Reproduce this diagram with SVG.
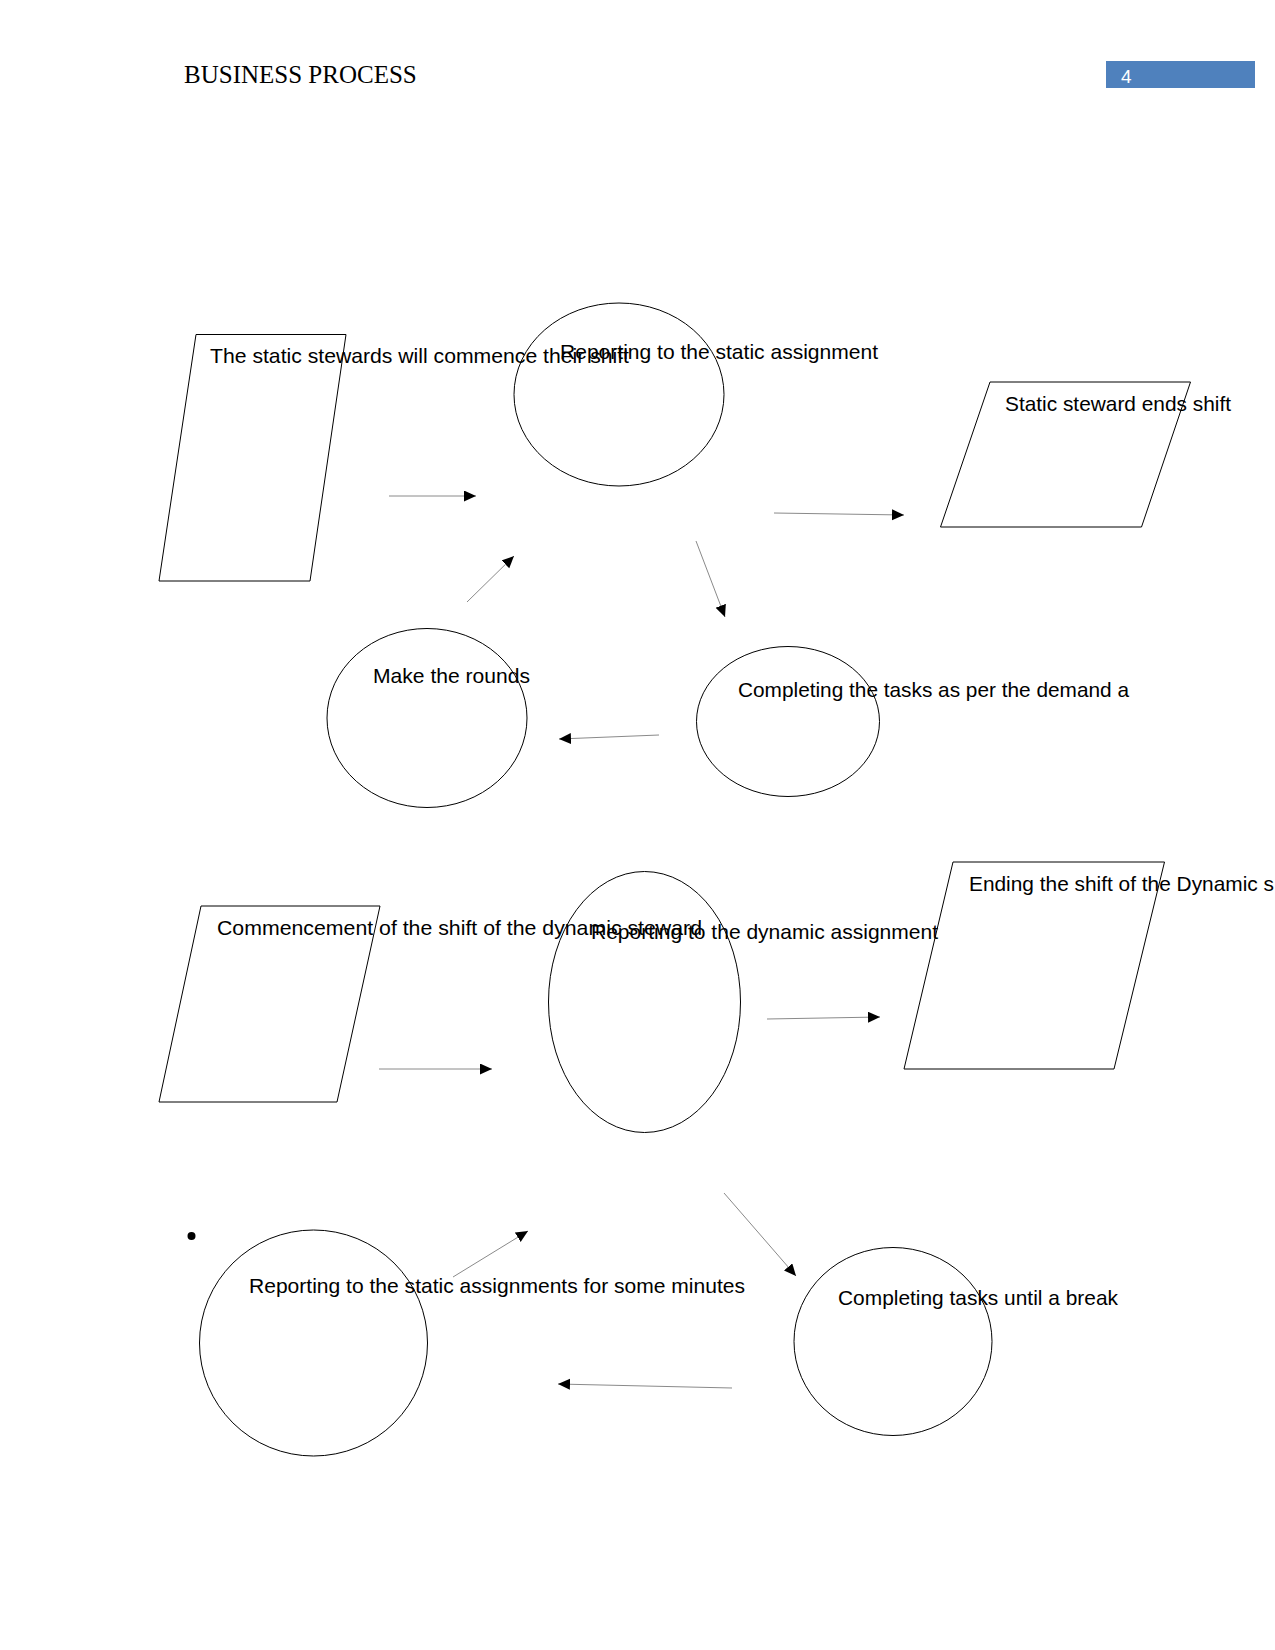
<svg xmlns="http://www.w3.org/2000/svg" width="1275" height="1650" viewBox="0 0 1275 1650">
<defs>
<style>
.shape{fill:none;stroke:#000;stroke-width:1}
.lbl{font-family:"Liberation Sans",Arial,sans-serif;font-size:21px;fill:#000}
.conn{stroke:#8a8a8a;stroke-width:1;fill:none;marker-end:url(#ah)}
</style>
<marker id="ah" markerUnits="userSpaceOnUse" markerWidth="13" markerHeight="12" refX="12" refY="5.5" orient="auto">
<path d="M0,0 L12,5.5 L0,11 Z" fill="#000"/>
</marker>
</defs>
<rect width="1275" height="1650" fill="#fff"/>
<g id="header">
<text x="184" y="83" font-family="'Liberation Serif','Times New Roman',serif" font-size="25" fill="#000">BUSINESS PROCESS</text>
<rect x="1106" y="61" width="149" height="27" fill="#4f81bd"/>
<text x="1121" y="83" font-family="'Liberation Sans',Arial,sans-serif" font-size="19" fill="#fff">4</text>
</g>
<g id="connectors">
<line class="conn" x1="389" y1="496" x2="476" y2="496"/>
<line class="conn" x1="774" y1="513" x2="904" y2="515"/>
<line class="conn" x1="696" y1="541" x2="725" y2="617"/>
<line class="conn" x1="467" y1="602" x2="514" y2="556"/>
<line class="conn" x1="659" y1="735" x2="559" y2="739"/>
<line class="conn" x1="379" y1="1069" x2="492" y2="1069"/>
<line class="conn" x1="767" y1="1019" x2="880" y2="1017"/>
<line class="conn" x1="724" y1="1193" x2="796" y2="1276"/>
<line class="conn" x1="732" y1="1388" x2="558" y2="1384"/>
<line class="conn" x1="453" y1="1277" x2="528" y2="1231"/>
</g>
<g id="n1">
<polygon class="shape" points="196,334.5 346,334.5 310,581 159,581"/>
<text class="lbl" x="210" y="363" textLength="419" lengthAdjust="spacingAndGlyphs">The static stewards will commence their shift</text>
</g>
<g id="n2">
<ellipse class="shape" cx="619" cy="394.5" rx="105" ry="91.5"/>
<text class="lbl" x="560" y="359" textLength="318" lengthAdjust="spacingAndGlyphs">Reporting to the static assignment</text>
</g>
<g id="n3">
<polygon class="shape" points="990,382 1190.5,382 1141.5,527 940.5,527"/>
<text class="lbl" x="1005" y="411" textLength="226" lengthAdjust="spacingAndGlyphs">Static steward ends shift</text>
</g>
<g id="n4">
<ellipse class="shape" cx="427" cy="718" rx="100" ry="89.5"/>
<text class="lbl" x="373" y="683" textLength="157" lengthAdjust="spacingAndGlyphs">Make the rounds</text>
</g>
<g id="n5">
<ellipse class="shape" cx="788" cy="721.5" rx="91.5" ry="75"/>
<text class="lbl" x="738" y="697" textLength="391" lengthAdjust="spacingAndGlyphs">Completing the tasks as per the demand a</text>
</g>
<g id="n6">
<polygon class="shape" points="201,906 380,906 337,1102 159,1102"/>
<text class="lbl" x="217" y="935" textLength="485" lengthAdjust="spacingAndGlyphs">Commencement of the shift of the dynamic steward</text>
</g>
<g id="n7">
<ellipse class="shape" cx="644.5" cy="1002" rx="96" ry="130.5"/>
<text class="lbl" x="591" y="939" textLength="347" lengthAdjust="spacingAndGlyphs">Reporting to the dynamic assignment</text>
</g>
<g id="n8">
<polygon class="shape" points="953,862 1164.5,862 1114,1069 904,1069"/>
<text class="lbl" x="969" y="891" textLength="305" lengthAdjust="spacingAndGlyphs">Ending the shift of the Dynamic s</text>
</g>
<g id="n9">
<circle cx="191.5" cy="1236" r="4" fill="#000"/>
<ellipse class="shape" cx="313.5" cy="1343" rx="114" ry="113"/>
<text class="lbl" x="249" y="1292.5" textLength="496" lengthAdjust="spacingAndGlyphs">Reporting to the static assignments for some minutes</text>
</g>
<g id="n10">
<ellipse class="shape" cx="893" cy="1341.5" rx="99" ry="94"/>
<text class="lbl" x="838" y="1305" textLength="280" lengthAdjust="spacingAndGlyphs">Completing tasks until a break</text>
</g>
</svg>
